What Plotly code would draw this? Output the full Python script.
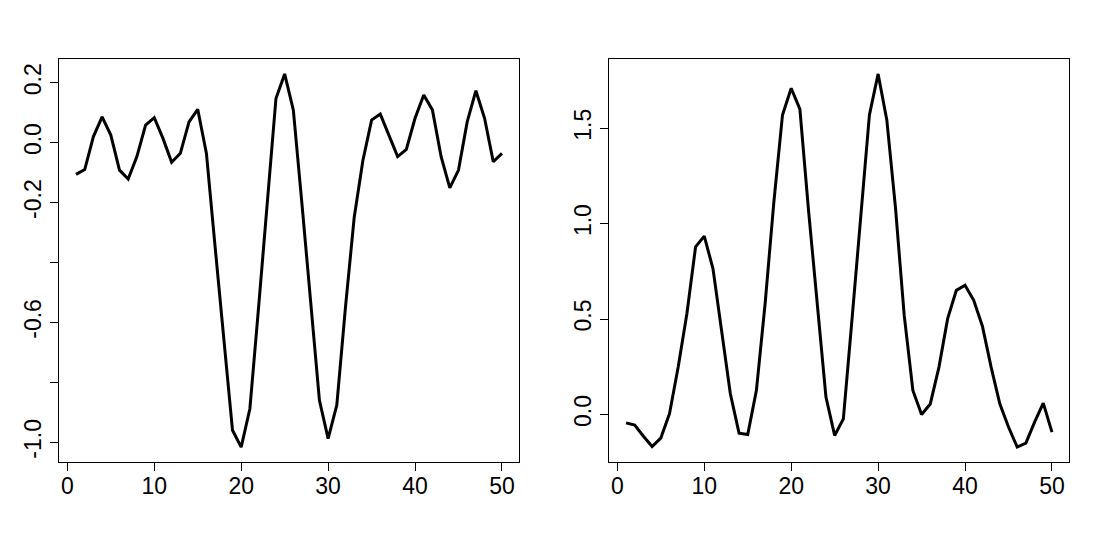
import plotly.graph_objects as go

# x positions 1..50
idx = list(range(1, 51))

# left panel series
left_vals = [-0.106, -0.090, 0.020, 0.086, 0.025, -0.092, -0.122, -0.047, 0.058, 0.083,
             0.014, -0.066, -0.036, 0.069, 0.111, -0.036, -0.348, -0.665, -0.960, -1.016,
             -0.888, -0.550, -0.215, 0.147, 0.229, 0.108, -0.208, -0.526, -0.860, -0.988,
             -0.876, -0.548, -0.250, -0.060, 0.075, 0.095, 0.025, -0.047, -0.023, 0.081,
             0.159, 0.109, -0.047, -0.151, -0.092, 0.069, 0.173, 0.081, -0.064, -0.036]

# right panel series
right_vals = [-0.044, -0.056, -0.114, -0.168, -0.124, 0.004, 0.248, 0.528, 0.878, 0.934,
              0.764, 0.430, 0.108, -0.098, -0.105, 0.126, 0.580, 1.110, 1.569, 1.709,
              1.600, 1.067, 0.590, 0.091, -0.110, -0.023, 0.500, 1.030, 1.569, 1.784,
              1.543, 1.082, 0.520, 0.126, 0.000, 0.055, 0.248, 0.502, 0.650, 0.677,
              0.598, 0.462, 0.248, 0.056, -0.066, -0.171, -0.150, -0.040, 0.059, -0.093]

x_ticks = [0, 10, 20, 30, 40, 50]
left_yticks = [-1.0, -0.8, -0.6, -0.4, -0.2, 0.0, 0.2]
left_ylabels = ["-1.0", "", "-0.6", "", "-0.2", "0.0", "0.2"]
right_yticks = [0.0, 0.5, 1.0, 1.5]
right_ylabels = ["0.0", "0.5", "1.0", "1.5"]


def r_range(vals):
    lo, hi = min(vals), max(vals)
    pad = (hi - lo) * 0.04
    return [lo - pad, hi + pad]


W, H = 1100, 536
OFF = 8  # page body margin shifts the figure

fig = go.Figure()
fig.add_trace(go.Scatter(x=idx, y=left_vals, mode="lines",
                         line=dict(color="black", width=3), xaxis="x", yaxis="y",
                         showlegend=False))
fig.add_trace(go.Scatter(x=idx, y=right_vals, mode="lines",
                         line=dict(color="black", width=3), xaxis="x2", yaxis="y2",
                         showlegend=False))

_ax = dict(showline=True, mirror=True, linecolor="black", linewidth=1,
           ticks="outside", ticklen=8, tickcolor="black", tickwidth=1,
           showgrid=False, zeroline=False,
           tickfont=dict(family="Liberation Sans, Arial", size=23, color="black"))

xr = r_range(idx)
ydom = [(H - (462 - OFF)) / H, (H - (59 - OFF)) / H]
fig.update_layout(
    width=W, height=H,
    paper_bgcolor="white", plot_bgcolor="white",
    margin=dict(l=0, r=0, t=0, b=0),
    xaxis=dict(domain=[(59 - OFF) / W, (519 - OFF) / W], range=xr, anchor="y",
               tickvals=x_ticks, ticklabelstandoff=-5, **_ax),
    yaxis=dict(domain=ydom, range=r_range(left_vals), anchor="x",
               tickvals=left_yticks, ticktext=left_ylabels, tickangle=-90, **_ax),
    xaxis2=dict(domain=[(609 - OFF) / W, (1069 - OFF) / W], range=xr, anchor="y2",
                tickvals=x_ticks, ticklabelstandoff=-5, **_ax),
    yaxis2=dict(domain=ydom, range=r_range(right_vals), anchor="x2",
                tickvals=right_yticks, ticktext=right_ylabels, tickangle=-90, **_ax),
)

fig.write_html("out.html")
